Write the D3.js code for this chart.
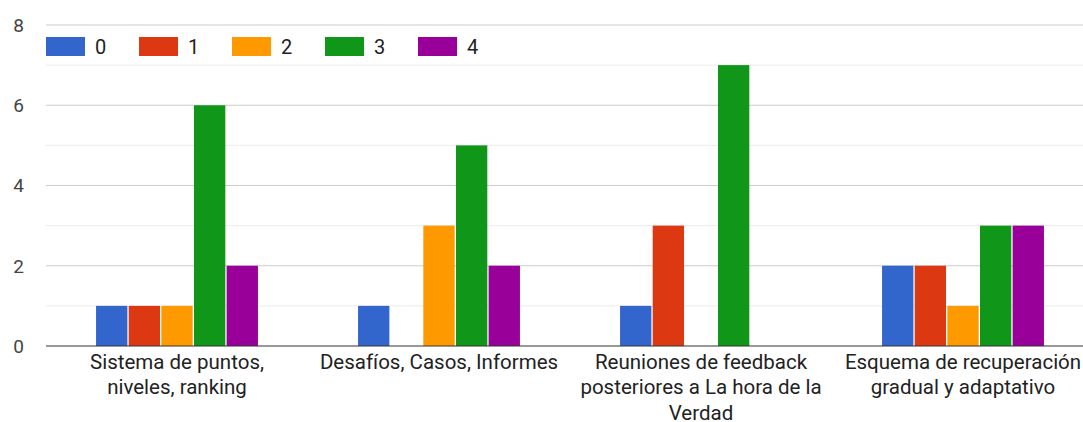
<!DOCTYPE html>
<html>
<head>
<meta charset="utf-8">
<script src="https://cdn.jsdelivr.net/npm/d3@7"></script>
<style>
  body { margin: 0; background: #fff; }
  svg { display: block; font-family: Roboto, Arial, sans-serif; }
</style>
</head>
<body>
<svg id="chart" width="1083" height="422"></svg>
<script>
// Chart data
const categories = [
    ["Sistema de puntos,", "niveles, ranking"],
    ["Desafíos, Casos, Informes"],
    ["Reuniones de feedback", "posteriores a La hora de la", "Verdad"],
    ["Esquema de recuperación", "gradual y adaptativo"]
];
const seriesNames = ["0", "1", "2", "3", "4"];
const seriesValues = [
    [1, 1, 1, 6, 2],
    [1, 0, 3, 5, 2],
    [1, 3, 0, 7, 0],
    [2, 2, 1, 3, 3]
];
const yTicks = [0, 2, 4, 6, 8];
const minorTicks = [1, 3, 5, 7];
const colors = ["#3366cc", "#dc3912", "#ff9900", "#109618", "#990099"];

const svg = d3.select("#chart");
const plotLeft = 46, plotRight = 1094, plotTop = 25, plotBottom = 346;

// Scales
const x0 = d3.scaleBand()
    .domain(d3.range(categories.length))
    .range([plotLeft, plotRight])
    .paddingInner(0.382)
    .paddingOuter(0.191);

const x1 = d3.scaleBand()
    .domain(seriesNames)
    .range([0, x0.bandwidth()])
    .paddingInner(0.04);

const y = d3.scaleLinear().domain([0, 8]).range([plotBottom, plotTop]);

// Gridlines
svg.append("g")
    .selectAll("line")
    .data(minorTicks)
    .join("line")
    .attr("x1", plotLeft).attr("x2", 1083)
    .attr("y1", d => y(d)).attr("y2", d => y(d))
    .attr("stroke", "#ebebeb");

svg.append("g")
    .selectAll("line")
    .data(yTicks.filter(d => d > 0))
    .join("line")
    .attr("x1", plotLeft).attr("x2", 1083)
    .attr("y1", d => y(d)).attr("y2", d => y(d))
    .attr("stroke", "#cccccc");

// Y axis labels
svg.append("g")
    .selectAll("text")
    .data(yTicks)
    .join("text")
    .attr("x", 24)
    .attr("y", d => y(d))
    .attr("dy", "0.36em")
    .attr("text-anchor", "end")
    .attr("font-size", 19)
    .attr("fill", "#444")
    .text(d => d);

// Bars
const groups = svg.append("g")
    .selectAll("g")
    .data(seriesValues)
    .join("g")
    .attr("transform", (d, i) => `translate(${x0(i)},0)`);

groups.selectAll("rect")
    .data(d => d.map((v, j) => ({ key: seriesNames[j], value: v, color: colors[j] }))
        .filter(b => b.value > 0))
    .join("rect")
    .attr("x", d => x1(d.key))
    .attr("y", d => y(d.value))
    .attr("width", x1.bandwidth())
    .attr("height", d => y(0) - y(d.value))
    .attr("fill", d => d.color);

// Baseline
svg.append("line")
    .attr("x1", plotLeft).attr("x2", 1083)
    .attr("y1", y(0)).attr("y2", y(0))
    .attr("stroke", "#333")
    .attr("stroke-width", 1.2);

// Category labels
svg.append("g")
    .selectAll("text")
    .data(categories)
    .join("text")
    .attr("text-anchor", "middle")
    .attr("font-size", 20.5)
    .attr("fill", "#222")
    .attr("transform", (d, i) => `translate(${x0(i) + x0.bandwidth() / 2},369)`)
    .selectAll("tspan")
    .data(d => d)
    .join("tspan")
    .attr("x", 0)
    .attr("y", (d, i) => i * 25.3)
    .text(d => d);

// Legend
const legend = svg.append("g")
    .selectAll("g")
    .data(seriesNames)
    .join("g")
    .attr("transform", (d, i) => `translate(${46 + i * 93},37)`);

legend.append("rect")
    .attr("width", 39)
    .attr("height", 19)
    .attr("fill", (d, i) => colors[i]);

legend.append("text")
    .attr("x", 49)
    .attr("y", 10)
    .attr("dy", "0.36em")
    .attr("font-size", 20)
    .attr("fill", "#222")
    .text(d => d);
</script>
</body>
</html>
